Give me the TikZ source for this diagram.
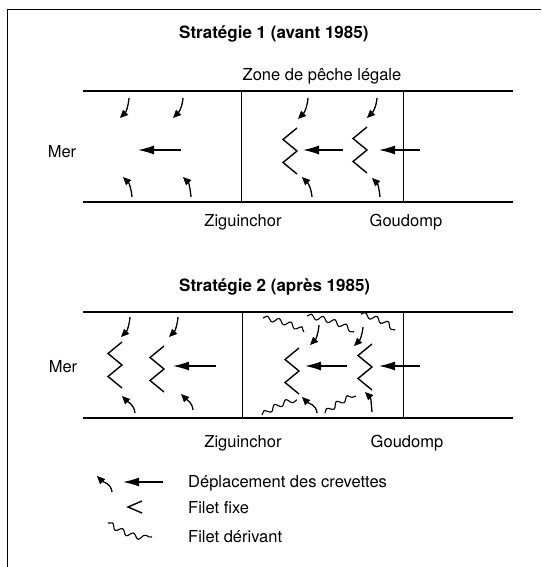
\documentclass[tikz,border=0pt]{standalone}
\usepackage{fontspec}
\setmainfont{TeX Gyre Heros}
\usetikzlibrary{arrows.meta,decorations.pathmorphing}

\tikzset{
  txt/.style={font=\fontsize{16.5}{20}\selectfont, inner sep=0pt, anchor=base},
  titre/.style={font=\fontsize{17}{20}\selectfont\bfseries, inner sep=0pt, anchor=base west},
  rive/.style={line width=1.8pt},
  limite/.style={line width=1pt},
  flux/.style={line width=1.3pt, -{Latex[length=16pt,width=9pt]}},
  migre/.style={line width=1.3pt, -{Triangle[length=8pt,width=7pt]}},
  derive/.style={line width=1.1pt, decorate, decoration={snake, segment length=12pt, amplitude=2.5pt}},
  filet/.pic={\draw[line width=1.4pt, line join=miter] (7,-23) -- (-7,-11.5) -- (7,0) -- (-7,11.5) -- (7,23);}
}

\begin{document}
\begin{tikzpicture}[x=1pt,y=-1pt]
  \useasboundingbox (0,0) rectangle (541,567);

  % Frame
  \draw[line width=0.9pt] (541,9) -- (7,9) -- (7,567);

  % Strategie 1
  \node[titre] (titre1) at (179,39) {Stratégie 1 (avant 1985)};
  \node[txt] (zone) at (322,81) {Zone de pêche légale};
  \draw[rive] (83,91) -- (513,91);
  \draw[rive] (83,202) -- (513,202);
  \draw[limite] (241,91) -- (241,202);
  \draw[limite] (403,91) -- (403,202);
  \node[txt] (mer1) at (62,157) {Mer};
  \node[txt] (zig1) at (243,226) {Ziguinchor};
  \node[txt] (goud1) at (406,226) {Goudomp};

  % fixed nets
  \pic at (290,151) {filet};
  \pic at (360,150) {filet};

  % shrimp moving
  \draw[flux] (181,150) -- (138,150);
  \draw[flux] (343,150) -- (303,150);
  \draw[flux] (420,150) -- (379,150);
  \draw[migre] (129,98) to[out=-95,in=45] (120,118);
  \draw[migre] (183,98) to[out=-95,in=45] (173,118);
  \draw[migre] (308,98) to[out=-95,in=45] (298,119);
  \draw[migre] (377,98) to[out=-95,in=45] (367,118);
  \draw[migre] (132,197) to[out=95,in=-45] (123,177);
  \draw[migre] (191,197) to[out=95,in=-45] (183,177);
  \draw[migre] (312,197) to[out=95,in=-45] (302,177);
  \draw[migre] (380,197) to[out=95,in=-45] (372,178);

  % Strategie 2
  \node[titre] (titre2) at (179,291) {Stratégie 2 (après 1985)};
  \draw[rive] (83,312) -- (513,312);
  \draw[rive] (83,418) -- (513,418);
  \draw[limite] (242,312) -- (242,418);
  \draw[limite] (403,312) -- (403,418);
  \node[txt] (mer2) at (63,372) {Mer};
  \node[txt] (zig2) at (243,447) {Ziguinchor};
  \node[txt] (goud2) at (407,447) {Goudomp};

  % fixed nets
  \pic at (115,365) {filet};
  \pic at (157,369) {filet};
  \pic at (292,371) {filet};
  \pic at (365,367) {filet};

  % drifting nets
  \draw[derive] (263,318) to[bend left=10] (304,332);
  \draw[derive] (307,316) to[bend left=10] (354,332);
  \draw[derive] (361,314) to[bend left=10] (395,330);
  \draw[derive] (262,415) to[bend left=10] (297,400);
  \draw[derive] (325,413) to[bend left=10] (356,396);

  % shrimp moving
  \draw[flux] (216,366) -- (173,366);
  \draw[flux] (347,366) -- (305,366);
  \draw[flux] (420,366) -- (379,366);
  \draw[migre] (130,317) to[out=-95,in=45] (121,337);
  \draw[migre] (178,317) to[out=-95,in=45] (169,337);
  \draw[migre] (319,325) to[out=-95,in=45] (310,345);
  \draw[migre] (363,327) to[out=-95,in=45] (354,346);
  \draw[migre] (135,413) to[out=95,in=-45] (122,396);
  \draw[migre] (193,410) to[out=95,in=-45] (181,394);
  \draw[migre] (317,413) to[out=95,in=-45] (302,397);
  \draw[migre] (372,412) to[out=95,in=-45] (365,392);

  % Legend
  \draw[migre] (112,492) to[out=95,in=-45] (97,476);
  \draw[flux] (163,482) -- (123,482);
  \draw[line width=1.4pt] (142,501) -- (128,507) -- (142,513);
  \draw[derive] (108,523) to[bend right=15] (152,537);
  \node[txt, anchor=base west] (leg1) at (188,487) {Déplacement des crevettes};
  \node[txt, anchor=base west] (leg2) at (188,513) {Filet fixe};
  \node[txt, anchor=base west] (leg3) at (188,542) {Filet dérivant};

\end{tikzpicture}
\end{document}
